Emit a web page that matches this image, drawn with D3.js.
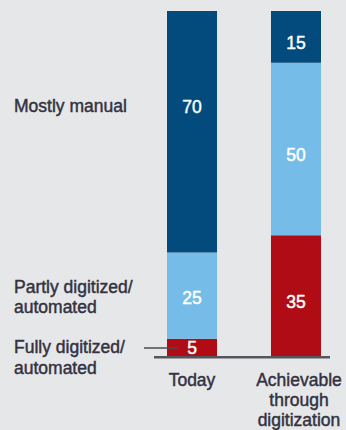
<!DOCTYPE html>
<html>
<head>
<meta charset="utf-8">
<script src="https://cdn.jsdelivr.net/npm/d3@7"></script>
<style>
  html, body { margin: 0; padding: 0; background: #e6e7e9; }
  svg { display: block; }
  text { font-family: "Liberation Sans", Arial, sans-serif; }
</style>
</head>
<body>
<svg id="chart" width="346" height="430"></svg>
<script>
// Share of processes by degree of digitization (%)
const columns = ["Today", "Achievable through digitization"];
const columnLines = [["Today"], ["Achievable", "through", "digitization"]];
const seriesNames = ["Fully digitized/ automated", "Partly digitized/ automated", "Mostly manual"];
const legendLines = [["Fully digitized/", "automated"], ["Partly digitized/", "automated"], ["Mostly manual"]];
const fullyDigitized = [5, 35];
const partlyDigitized = [25, 50];
const mostlyManual = [70, 15];
const seriesColors = ["#b00c15", "#75bde8", "#034a7d"];

const svg = d3.select("#chart");

const x = d3.scaleBand().domain(columns).range([167, 321]).paddingInner(0.519).paddingOuter(0);
const y = d3.scaleLinear().domain([0, 100]).range([356, 11]);

const rows = columns.map((c, i) => ({
  col: c,
  [seriesNames[0]]: fullyDigitized[i],
  [seriesNames[1]]: partlyDigitized[i],
  [seriesNames[2]]: mostlyManual[i]
}));
const stacked = d3.stack().keys(seriesNames)(rows);

// stacked bars
const layers = svg.selectAll("g.layer").data(stacked).join("g")
  .attr("class", "layer")
  .attr("fill", (d, i) => seriesColors[i]);

layers.selectAll("rect").data(d => d).join("rect")
  .attr("x", d => x(d.data.col))
  .attr("width", x.bandwidth())
  .attr("y", d => y(d[1]))
  .attr("height", d => y(d[0]) - y(d[1]));

// legend rows on the left (vertical centre of each row), shared by the "Today" value labels
const legendRowY = [347, 297, 106];
const lineH = 20.5;
const fontSize = "17.5px";
const textColor = "#33323f";

// slightly heavier strokes on the text
function heavy(sel, color) {
  return sel.attr("fill", color).attr("stroke", color).attr("stroke-width", 0.45)
    .style("font-size", fontSize);
}

const legend = svg.append("g");
legendLines.forEach((lines, i) => {
  // the bottom label hangs from its leader line; the others are centred on their row
  const first = i === 0 ? legendRowY[i] + 6 : legendRowY[i] + 6 - (lines.length - 1) * lineH / 2;
  const t = heavy(legend.append("text").attr("x", 14), textColor);
  lines.forEach((s, k) => {
    t.append("tspan").attr("x", 14).attr("y", first + k * lineH).text(s);
  });
});

// leader line from the bottom legend entry into the thin red segment
svg.append("line")
  .attr("x1", 144).attr("x2", x(columns[0]) + 10)
  .attr("y1", legendRowY[0] + 1).attr("y2", legendRowY[0] + 1)
  .attr("stroke", "#4a4a52").attr("stroke-width", 1.6);

// value labels
stacked.forEach((layer, si) => {
  layer.forEach((d, ci) => {
    const cy = ci === 0 ? legendRowY[si] + 6.5 : (y(d[0]) + y(d[1])) / 2 + 12;
    heavy(svg.append("text"), "#ffffff")
      .attr("x", x(d.data.col) + x.bandwidth() / 2)
      .attr("y", cy)
      .attr("text-anchor", "middle")
      .text(d[1] - d[0]);
  });
});

// baseline
svg.append("line")
  .attr("x1", 154).attr("x2", 330)
  .attr("y1", y(0) + 1.2).attr("y2", y(0) + 1.2)
  .attr("stroke", "#55555c").attr("stroke-width", 2.4);

// column labels
columns.forEach((c, i) => {
  const t = heavy(svg.append("text"), textColor).attr("text-anchor", "middle");
  columnLines[i].forEach((s, k) => {
    t.append("tspan")
      .attr("x", x(c) + x.bandwidth() / 2 + (i === 1 ? 3 : 0))
      .attr("y", 386 + k * 20)
      .text(s);
  });
});
</script>
</body>
</html>
